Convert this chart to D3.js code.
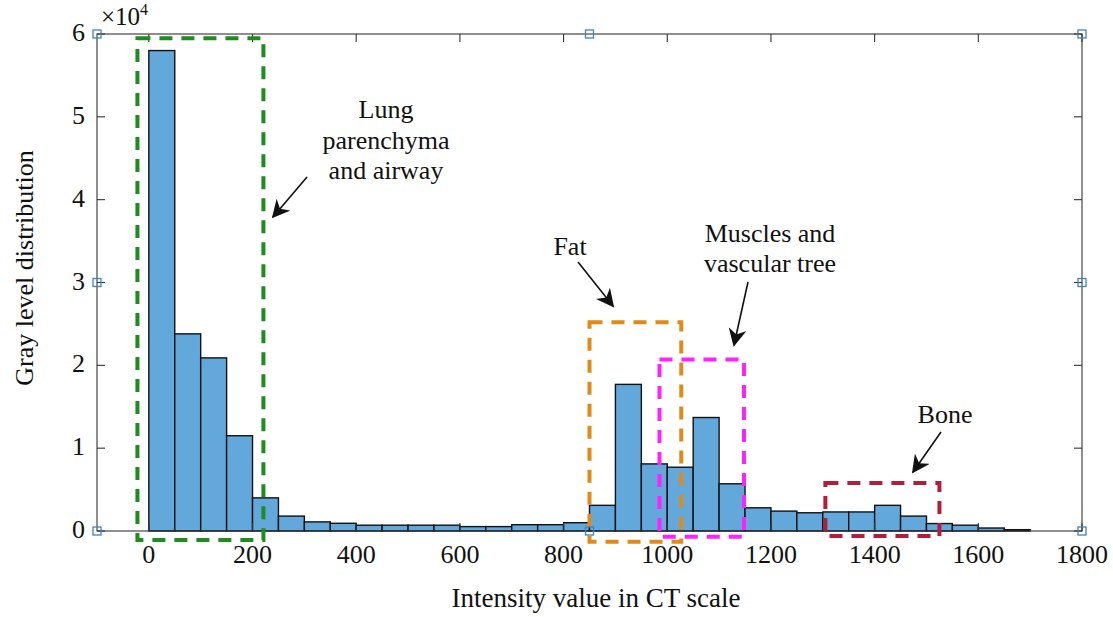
<!DOCTYPE html>
<html><head><meta charset="utf-8">
<script src="https://cdn.jsdelivr.net/npm/d3@7"></script>
<style>body{margin:0;background:#fff}svg{display:block}text{font-family:"Liberation Serif","Times New Roman",serif;fill:#111}</style>
</head><body><svg id="c" width="1113" height="617"></svg>
<script>
// bin left edges (CT intensity) and counts (x10^4)
const binStarts = [0,50,100,150,200,250,300,350,400,450,500,550,600,650,700,750,800,850,900,950,1000,1050,1100,1150,1200,1250,1300,1350,1400,1450,1500,1550,1600,1650];
const counts = [5.80,2.38,2.09,1.15,0.40,0.18,0.11,0.093,0.07,0.07,0.07,0.07,0.053,0.053,0.076,0.076,0.10,0.31,1.77,0.81,0.77,1.37,0.57,0.28,0.24,0.22,0.23,0.23,0.31,0.18,0.09,0.07,0.036,0.016];
const binWidth = 50;
const xTicks = [0,200,400,600,800,1000,1200,1400,1600,1800];
const yTicks = [0,1,2,3,4,5,6];
// annotation regions: [x0,x1,y0,y1] in data units
const regionNames = ["lung","fat","muscle","bone"];
const regionBoxes = [[-22,221,-0.11,5.95],[850,1027,-0.13,2.52],[985,1148,-0.07,2.07],[1305,1525,-0.06,0.58]];
const regionColors = ["#1e8c1e","#e08a1a","#ff22ff","#b01e3c"];
const labelLines = [["Lung","parenchyma","and airway"],["Fat"],["Muscles and","vascular tree"],["Bone"]];
const handleX = [-100,850,1800];
const handleY = [0,3,6];

const svg = d3.select("#c");
const x = d3.scaleLinear().domain([-100,1800]).range([97,1082]);
const y = d3.scaleLinear().domain([0,6]).range([531,34]);

// bars
svg.selectAll("rect.bar").data(counts).join("rect")
  .attr("x",(d,i)=>x(binStarts[i])).attr("width",(d,i)=>x(binStarts[i]+binWidth)-x(binStarts[i]))
  .attr("y",d=>y(d)).attr("height",d=>y(0)-y(d))
  .attr("fill","#62a8da").attr("stroke","#111").attr("stroke-width",1.4);

// frame
const g = svg.append("g").attr("stroke","#333").attr("stroke-width",1.1).attr("fill","none");
g.append("rect").attr("x",x(-100)).attr("y",y(6)).attr("width",x(1800)-x(-100)).attr("height",y(0)-y(6));
xTicks.forEach(t=>{
  g.append("line").attr("x1",x(t)).attr("x2",x(t)).attr("y1",y(0)).attr("y2",y(0)-8);
  g.append("line").attr("x1",x(t)).attr("x2",x(t)).attr("y1",y(6)).attr("y2",y(6)+8);
});
yTicks.forEach(t=>{
  g.append("line").attr("x1",x(-100)).attr("x2",x(-100)+8).attr("y1",y(t)).attr("y2",y(t));
  g.append("line").attr("x1",x(1800)).attr("x2",x(1800)-8).attr("y1",y(t)).attr("y2",y(t));
});

// tick labels
svg.selectAll("text.xt").data(xTicks).join("text").attr("class","xt")
  .attr("x",d=>x(d)).attr("y",563).attr("text-anchor","middle").attr("font-size",26).text(d=>d);
svg.selectAll("text.yt").data(yTicks).join("text").attr("class","yt")
  .attr("x",85).attr("y",d=>y(d)+7).attr("text-anchor","end").attr("font-size",26).text(d=>d);
const ex = svg.append("text").attr("x",101).attr("y",25).attr("font-size",25);
ex.append("tspan").text("×10");
ex.append("tspan").attr("font-size",16).attr("dy",-10).text("4");

// axis titles
svg.append("text").attr("x",596).attr("y",607).attr("text-anchor","middle").attr("font-size",27).text("Intensity value in CT scale");
svg.append("text").attr("transform","translate(33,268) rotate(-90)").attr("text-anchor","middle").attr("font-size",26).text("Gray level distribution");

// region boxes
regionBoxes.forEach((b,i)=>{
  svg.append("rect").attr("x",x(b[0])).attr("y",y(b[3])).attr("width",x(b[1])-x(b[0])).attr("height",y(b[2])-y(b[3]))
    .attr("fill","none").attr("stroke",regionColors[i]).attr("stroke-width",4).attr("stroke-dasharray","13,9");
});

// labels
const labelPos = [[386,118,30.5],[570,255,30],[770,242,30],[945,423,30]];
labelLines.forEach((lines,i)=>{
  lines.forEach((s,j)=>{
    svg.append("text").attr("x",labelPos[i][0]).attr("y",labelPos[i][1]+j*labelPos[i][2])
      .attr("text-anchor","middle").attr("font-size",26).text(s);
  });
});

// arrows
svg.append("defs").append("marker").attr("id","ah").attr("viewBox","0 0 10 10").attr("refX",9).attr("refY",5)
  .attr("markerWidth",18).attr("markerHeight",18).attr("orient","auto").attr("markerUnits","userSpaceOnUse")
  .append("path").attr("d","M0,0 L10,5 L0,10 L3,5 Z").attr("fill","#111");
const arrows = [[307,177,273,217],[578,262,613,306],[748,282,734,345],[941,432,913,472]];
arrows.forEach(a=>{
  svg.append("line").attr("x1",a[0]).attr("y1",a[1]).attr("x2",a[2]).attr("y2",a[3])
    .attr("stroke","#111").attr("stroke-width",1.6).attr("marker-end","url(#ah)");
});

// handles
handleX.forEach(hx=>handleY.forEach(hy=>{
  if(hx===850 && hy===3) return;
  svg.append("rect").attr("x",x(hx)-4).attr("y",y(hy)-4).attr("width",8).attr("height",8)
    .attr("fill","none").attr("stroke","#3d86c6").attr("stroke-width",1.3);
}));
</script></body></html>
